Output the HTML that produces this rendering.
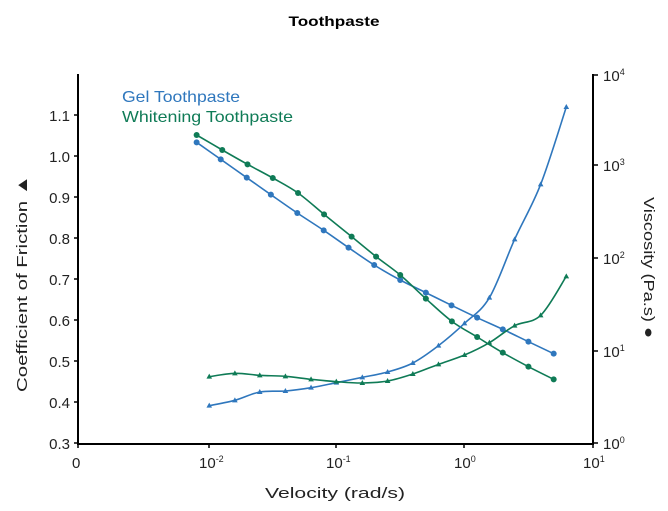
<!DOCTYPE html>
<html><head><meta charset="utf-8"><style>
body{margin:0;background:#fff;}
svg{display:block;font-family:"Liberation Sans",sans-serif;}
</style></head><body>
<svg id="s" width="668" height="511" viewBox="0 0 668 511" xmlns="http://www.w3.org/2000/svg">
<text x="334" y="26" text-anchor="middle" font-size="14" font-weight="bold" fill="#000" textLength="91" lengthAdjust="spacingAndGlyphs">Toothpaste</text>
<g stroke="#000" stroke-width="2" fill="none">
<line x1="78" y1="74" x2="78" y2="444"/>
<line x1="77" y1="444" x2="594" y2="444"/>
<line x1="593" y1="74" x2="593" y2="444"/>
</g>
<g stroke="#000" stroke-width="1.5">
<line x1="74" y1="443" x2="78" y2="443"/><line x1="74" y1="402" x2="78" y2="402"/><line x1="74" y1="361" x2="78" y2="361"/><line x1="74" y1="320" x2="78" y2="320"/><line x1="74" y1="279" x2="78" y2="279"/><line x1="74" y1="238" x2="78" y2="238"/><line x1="74" y1="197" x2="78" y2="197"/><line x1="74" y1="156" x2="78" y2="156"/><line x1="74" y1="115" x2="78" y2="115"/>
<line x1="78" y1="444" x2="78" y2="448"/><line x1="209" y1="444" x2="209" y2="448"/><line x1="336" y1="444" x2="336" y2="448"/><line x1="464" y1="444" x2="464" y2="448"/><line x1="593" y1="444" x2="593" y2="448"/>
<line x1="593" y1="75" x2="598" y2="75"/><line x1="593" y1="165" x2="598" y2="165"/><line x1="593" y1="258" x2="598" y2="258"/><line x1="593" y1="351" x2="598" y2="351"/><line x1="593" y1="443" x2="598" y2="443"/>
</g>
<g font-size="15" fill="#222" text-anchor="end">
<text x="70" y="449">0.3</text><text x="70" y="408">0.4</text><text x="70" y="367">0.5</text><text x="70" y="326">0.6</text><text x="70" y="285">0.7</text><text x="70" y="244">0.8</text><text x="70" y="203">0.9</text><text x="70" y="162">1.0</text><text x="70" y="121">1.1</text>
</g>
<g font-size="15" fill="#222">
<text x="72" y="468">0</text>
<text x="199" y="468">10<tspan font-size="9" dy="-6">-2</tspan></text>
<text x="326" y="468">10<tspan font-size="9" dy="-6">-1</tspan></text>
<text x="454" y="468">10<tspan font-size="9" dy="-6">0</tspan></text>
<text x="583" y="468">10<tspan font-size="9" dy="-6">1</tspan></text>
<text x="603" y="81">10<tspan font-size="9" dy="-6">4</tspan></text>
<text x="603" y="171">10<tspan font-size="9" dy="-6">3</tspan></text>
<text x="603" y="264">10<tspan font-size="9" dy="-6">2</tspan></text>
<text x="603" y="357">10<tspan font-size="9" dy="-6">1</tspan></text>
<text x="603" y="449">10<tspan font-size="9" dy="-6">0</tspan></text>
<text x="265" y="498" textLength="140" lengthAdjust="spacingAndGlyphs">Velocity (rad/s)</text>
<text transform="translate(27,392) rotate(-90)" textLength="217" lengthAdjust="spacingAndGlyphs">Coefficient of Friction ▲</text>
<text transform="translate(644,197) rotate(90)" textLength="141" lengthAdjust="spacingAndGlyphs">Viscosity (Pa.s) ●</text>
<text x="122" y="102" fill="#2f77bd" font-size="16" textLength="118" lengthAdjust="spacingAndGlyphs">Gel Toothpaste</text>
<text x="122" y="122" fill="#0f7b56" font-size="16" textLength="171" lengthAdjust="spacingAndGlyphs">Whitening Toothpaste</text>
</g>
<g id="g"></g>
</svg>
<script>
var B='#2f77bd',G='#0f7b56';
var series=[
[B,'c',[[357,247],[420,298],[488,353],[551,404],[620,459],[689,511],[754,563],[821,615],[889,660],[956,698],[1023,736],[1090,773],[1157,808],[1224,845],[1290,881]]],
[G,'c',[[357,225],[424,270],[490,313],[556,354],[622,399],[690,463],[762,530],[826,590],[889,645],[956,716],[1024,784],[1090,831],[1157,878],[1224,920],[1290,958]]],
[B,'t',[[390,1037],[457,1021],[522,996],[589,993],[656,983],[722,968],[790,952],[856,936],[922,909],[989,857],[1057,790],[1122,713],[1188,538],[1256,373],[1323,141]]],
[G,'t',[[390,950],[457,940],[522,946],[589,949],[656,958],[722,965],[790,969],[856,963],[922,942],[989,913],[1057,885],[1122,848],[1188,797],[1256,766],[1323,649]]]];
var h='';
series.forEach(function(s){
 var p=s[2].map(function(q){return [60+q[0]/2.613,60+q[1]/3];});
 var d='M'+p[0][0].toFixed(1)+' '+p[0][1].toFixed(1);
 for(var i=0;i<p.length-1;i++){
  var a=p[i-1]||p[i],b=p[i],c=p[i+1],e=p[i+2]||c;
  var c1=[b[0]+(c[0]-a[0])/6,b[1]+(c[1]-a[1])/6],c2=[c[0]-(e[0]-b[0])/6,c[1]-(e[1]-b[1])/6];
  d+=' C'+c1.join(' ')+' '+c2.join(' ')+' '+c.join(' ');
 }
 h+='<path d="'+d+'" fill="none" stroke="'+s[0]+'" stroke-width="1.6"/>';
 p.forEach(function(q){
  if(s[1]=='c')h+='<circle cx="'+q[0]+'" cy="'+q[1]+'" r="3" fill="'+s[0]+'"/>';
  else h+='<polygon points="'+q[0]+','+(q[1]-3)+' '+(q[0]-2.8)+','+(q[1]+2)+' '+(q[0]+2.8)+','+(q[1]+2)+'" fill="'+s[0]+'"/>';
 });
});
document.getElementById('g').innerHTML=h;
</script>
</body></html>
